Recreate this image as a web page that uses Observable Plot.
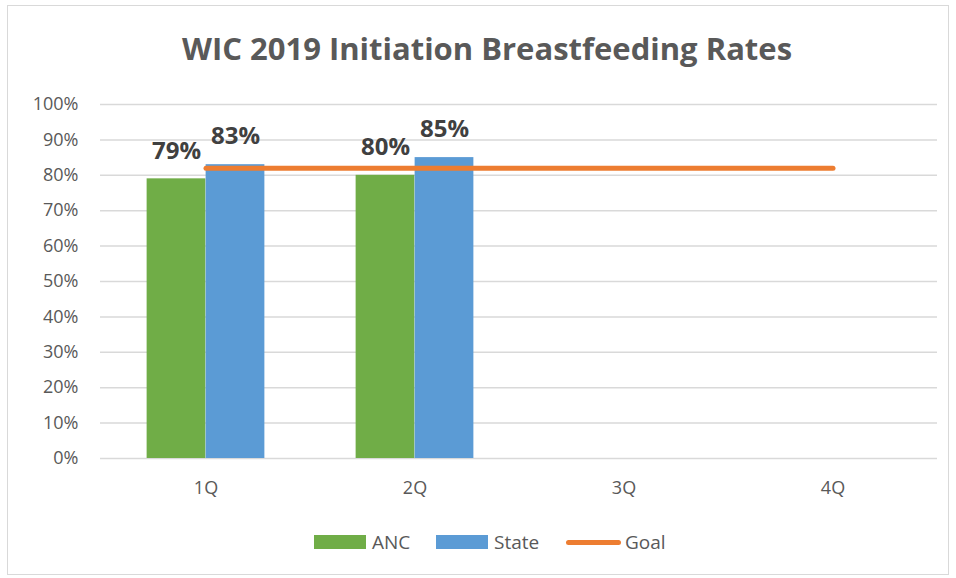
<!DOCTYPE html>
<html>
<head>
<meta charset="utf-8">
<script src="https://cdn.jsdelivr.net/npm/d3@7"></script>
<script src="https://cdn.jsdelivr.net/npm/@observablehq/plot@0.6"></script>
<style>
  html, body { margin: 0; padding: 0; background: #fff; }
  #wrap { position: relative; width: 956px; height: 578px; font-family: "Open Sans", "Noto Sans", sans-serif; color: #595959; }
  #frame { position: absolute; left: 7px; top: 5px; width: 942px; height: 570px; border: 1px solid #d9d9d9; box-sizing: border-box; }
  #title { position: absolute; left: 0; top: 28px; width: 974px; text-align: center; font-size: 31px; font-weight: bold; color: #595959; line-height: 40px; }
  #chart { position: absolute; left: 0; top: 90px; }
  #chart svg { background: transparent; }
  .item { position: absolute; display: flex; align-items: center; font-size: 19px; color: #595959; height: 24px; top: 530px; }
  .sw { width: 52px; height: 14px; margin-right: 6px; flex: none; }
  .ln { width: 55px; height: 5px; border-radius: 3px; margin-right: 4px; flex: none; }
</style>
</head>
<body>
<div id="wrap">
  <div id="frame"></div>
  <div id="title">WIC 2019 Initiation Breastfeeding Rates</div>
  <div id="chart"></div>
  <div id="legend"></div>
</div>
<script>
const quarters = ["1Q", "2Q", "3Q", "4Q"];
const ancValues = [0.79, 0.80, null, null];
const stateValues = [0.83, 0.85, null, null];
const goalValues = [0.82, 0.82, 0.82, 0.82];
const yTicks = [0, 0.1, 0.2, 0.3, 0.4, 0.5, 0.6, 0.7, 0.8, 0.9, 1.0];
const seriesNames = ["ANC", "State", "Goal"];
const colors = { ANC: "#70AD47", State: "#5B9BD5", Goal: "#ED7D31" };

const anc = quarters.map((q, i) => ({ q, v: ancValues[i] })).filter(d => d.v != null);
const state = quarters.map((q, i) => ({ q, v: stateValues[i] })).filter(d => d.v != null);
const goal = quarters.map((q, i) => ({ q, v: goalValues[i] }));

const width = 956, height = 420;
const marginLeft = 100, marginRight = 19;
const band = (width - marginLeft - marginRight) / quarters.length;
const half = band / 2;
const barW = 59;
const fmt = d3.format(".0%");

const chart = Plot.plot({
  width, height,
  marginLeft, marginRight, marginTop: 14, marginBottom: 52,
  style: { fontFamily: "'Open Sans', 'Noto Sans', sans-serif", fontSize: "18px", color: "#595959", background: "transparent" },
  x: { type: "band", domain: quarters, padding: 0, label: null, tickSize: 0, tickPadding: 23 },
  y: { domain: [0, 1], ticks: yTicks, tickFormat: fmt, label: null, tickSize: 0, tickPadding: 22 },
  marks: [
    Plot.gridY(yTicks, { stroke: "#d9d9d9", strokeOpacity: 1, strokeWidth: 1.5 }),
    Plot.barY(anc, { x: "q", y: "v", fill: colors.ANC, insetLeft: half - barW, insetRight: half }),
    Plot.barY(state, { x: "q", y: "v", fill: colors.State, insetLeft: half, insetRight: half - barW }),
    Plot.lineY(goal, { x: "q", y: "v", stroke: colors.Goal, strokeWidth: 5, strokeLinecap: "round" }),
    Plot.text(anc, { x: "q", y: "v", text: d => fmt(d.v), dx: -barW / 2, dy: -28, fontSize: 24, fontWeight: "bold", fill: "#404040", lineAnchor: "middle" }),
    Plot.text(state, { x: "q", y: "v", text: d => fmt(d.v), dx: barW / 2, dy: -28, fontSize: 24, fontWeight: "bold", fill: "#404040", lineAnchor: "middle" })
  ]
});
document.getElementById("chart").appendChild(chart);

const legend = document.getElementById("legend");
const legendLeft = { ANC: 314, State: 436, Goal: 566 };
seriesNames.forEach(name => {
  const item = document.createElement("div");
  item.className = "item";
  item.style.left = legendLeft[name] + "px";
  const sw = document.createElement("div");
  sw.className = name === "Goal" ? "ln" : "sw";
  sw.style.background = colors[name];
  item.appendChild(sw);
  const lab = document.createElement("span");
  lab.textContent = name;
  item.appendChild(lab);
  legend.appendChild(item);
});
</script>
</body>
</html>
